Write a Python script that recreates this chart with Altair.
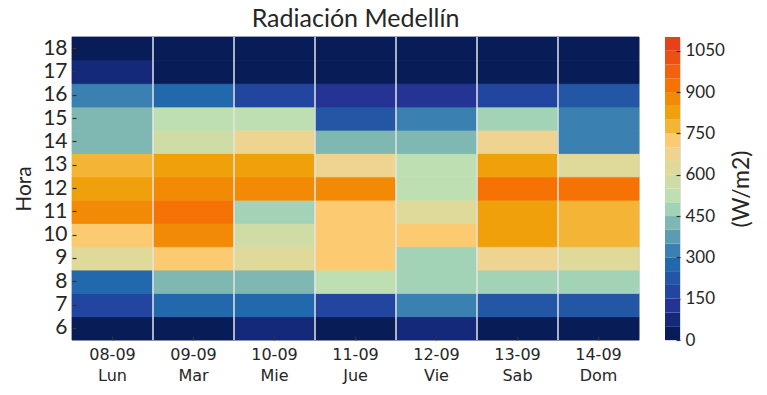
import altair as alt
import pandas as pd

# ---- data ----
days = ["08-09", "09-09", "10-09", "11-09", "12-09", "13-09", "14-09"]
day_names = ["Lun", "Mar", "Mie", "Jue", "Vie", "Sab", "Dom"]
hours = [6, 7, 8, 9, 10, 11, 12, 13, 14, 15, 16, 17, 18]

# radiation (W/m2) per hour 6..18
lun = [25, 175, 275, 625, 725, 875, 825, 775, 425, 425, 325, 75, 25]
mar = [25, 275, 425, 725, 875, 925, 875, 825, 575, 525, 275, 25, 25]
mie = [75, 275, 425, 625, 575, 475, 875, 825, 675, 525, 175, 25, 25]
jue = [25, 175, 525, 725, 725, 725, 875, 675, 425, 225, 125, 25, 25]
vie = [75, 325, 475, 475, 725, 625, 525, 525, 425, 325, 125, 25, 25]
sab = [25, 225, 475, 675, 825, 825, 925, 825, 675, 475, 175, 25, 25]
dom = [25, 225, 475, 625, 775, 775, 925, 625, 325, 325, 225, 25, 25]
series = [lun, mar, mie, jue, vie, sab, dom]

cbar_ticks = [0, 150, 300, 450, 600, 750, 900, 1050]
bin_edges = list(range(0, 1101, 50))
palette = ["#081d58", "#15297a", "#253494", "#2246a0", "#2357a5", "#2168ac",
           "#3a80b0", "#5a9db3", "#7fb7b3", "#a3d3b6", "#bedfb1", "#cfdca6",
           "#dfd99a", "#efd491", "#fbca71", "#f4b435", "#f0a00a", "#f38a05",
           "#f67205", "#f26010", "#ee5014", "#e8401a"]

# ---- tables ----
day_labels = [f"{d} {n}" for d, n in zip(days, day_names)]
rows = []
for lab, vals in zip(day_labels, series):
    for h, v in zip(hours, vals):
        rows.append({"day": lab, "hour": h, "value": v})
df = pd.DataFrame(rows)
sep_df = pd.DataFrame({"day": day_labels[1:]})
cb_df = pd.DataFrame({"lo": bin_edges[:-1], "hi": bin_edges[1:]})
cb_df["mid"] = cb_df["lo"] + 25

color_scale = alt.Scale(type="threshold", domain=bin_edges[1:-1], range=palette)
TXT = "#262626"

xenc = alt.X("day:N", sort=day_labels,
             scale=alt.Scale(paddingInner=0, paddingOuter=0),
             axis=alt.Axis(title=None, labelAngle=0,
                           labelExpr="split(datum.label, ' ')",
                           labelFont="DejaVu Sans", labelFontSize=16,
                           labelColor=TXT, labelLineHeight=21,
                           labelPadding=6, tickSize=4, offset=-4,
                           tickColor="#333333", tickWidth=1.2,
                           domain=False, zindex=1))

heat = alt.Chart(df).mark_rect(strokeWidth=0.8).encode(
    x=xenc,
    y=alt.Y("hour:O", sort="descending",
            scale=alt.Scale(paddingInner=0, paddingOuter=0),
            axis=alt.Axis(title="Hora", titleFont="Lato", titleFontSize=21,
                          titleFontWeight="normal", titleColor=TXT,
                          titlePadding=8,
                          labelFont="Lato", labelFontSize=21, labelColor=TXT,
                          labelPadding=5, tickSize=4, offset=-4,
                          tickColor="#333333", tickWidth=1.2,
                          domain=False, zindex=1)),
    color=alt.Color("value:Q", scale=color_scale, legend=None),
    stroke=alt.Color("value:Q", scale=color_scale, legend=None),
)

seps = alt.Chart(sep_df).mark_rule(color="#e4e4e4", strokeWidth=1.5).encode(
    x=alt.X("day:N", sort=day_labels, bandPosition=0),
)

main = alt.layer(heat, seps).properties(
    width=567, height=303,
    title=alt.TitleParams("Radiación Medellín", font="Lato", fontSize=25,
                          fontWeight="normal", color=TXT, anchor="middle",
                          offset=4),
)

colorbar = alt.Chart(cb_df).mark_rect().encode(
    y=alt.Y("lo:Q", scale=alt.Scale(domain=[0, 1100], nice=False),
            axis=alt.Axis(orient="right", values=cbar_ticks, format="d",
                          title="(W/m2)",
                          titleAngle=270, titleBaseline="top",
                          titleFont="Lato", titleFontSize=23,
                          titleFontWeight="normal", titleColor=TXT,
                          titlePadding=6,
                          labelFont="Lato", labelFontSize=17, labelColor=TXT,
                          labelPadding=5, tickSize=4, offset=-4,
                          tickColor="#333333", tickWidth=1.2,
                          domain=False, grid=False, zindex=1)),
    y2="hi:Q",
    color=alt.Color("mid:Q", scale=color_scale, legend=None),
).properties(width=15, height=303)

chart = alt.hconcat(main, colorbar, spacing=24).resolve_scale(
    color="independent", stroke="independent"
).configure_view(stroke="#cccccc", strokeWidth=1).configure(
    background="white", padding={"left": 13, "top": 6, "right": 5, "bottom": 5}
)

chart.save("out.html", embed_options={"renderer": "svg", "actions": False})
